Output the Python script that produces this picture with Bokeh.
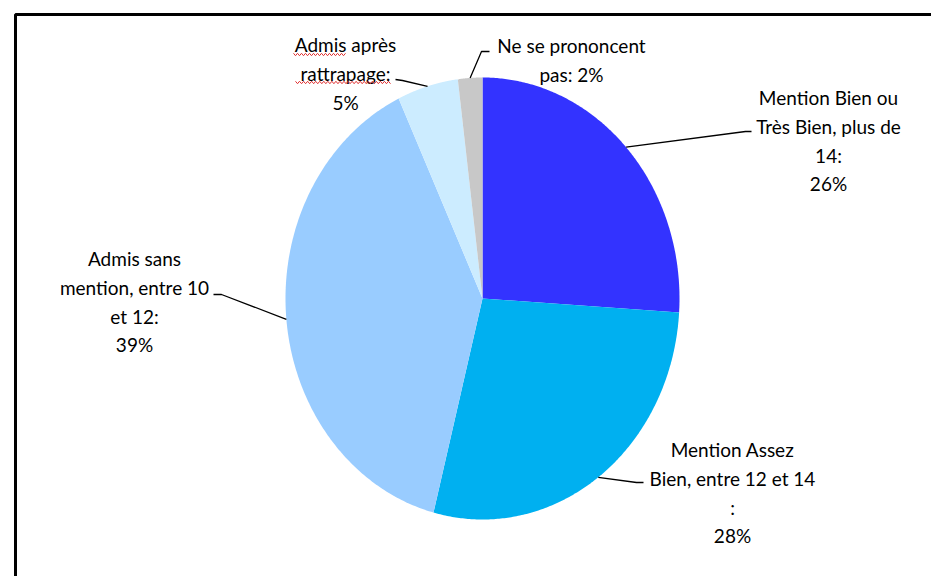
import numpy as np
from bokeh.plotting import figure
from bokeh.models import Range1d
from bokeh.core.properties import value
from bokeh.embed import file_html
from bokeh.resources import INLINE

# ---------------- data ----------------
categories = [
    "Mention Bien ou Très Bien, plus de 14",
    "Mention Assez Bien, entre 12 et 14",
    "Admis sans mention, entre 10 et 12",
    "Admis après rattrapage",
    "Ne se prononcent pas",
]
percents = [26, 28, 39, 5, 2]
colors = ["#3333FF", "#00B0F0", "#99CCFF", "#CCECFF", "#C8C8C8"]
label_templates = [
    ["Mention Bien ou", "Très Bien, plus de", "14:", "{}%"],
    ["Mention Assez", "Bien, entre 12 et 14", ":", "{}%"],
    ["Admis sans", "mention, entre 10", "et 12:", "{}%"],
    ["Admis après", "rattrapage:", "{}%"],
    ["Ne se prononcent", "pas: {}%"],
]

# ---------------- layout (page pixel coordinates) ----------------
W, H = 931, 576
CX, CY = 482.0, 298.0      # pie centre
RX, RY = 197.0, 221.0      # pie radii (elliptical pie)
label_pos = [(828, 97), (732, 449), (134, 258), (345, 44), (571, 45)]
line_step = 28.8
leader_elbow = [(745, 131), (636, 482), (221, 294), (402, 80), (481, 51)]
leader_end = [(751, 131), (643, 482), (213, 294), (395, 79), (489, 51)]

FONT = "Lato"
FSIZE = "19px"

p = figure(width=W, height=H, output_backend="svg", toolbar_location=None,
           x_range=Range1d(0, W), y_range=Range1d(H, 0),
           x_axis_location=None, y_axis_location=None, min_border=0)
p.grid.visible = False
p.outline_line_color = None
p.background_fill_color = "white"
p.border_fill_color = "white"

# chart frame
p.quad(left=[15], right=[980], top=[14], bottom=[620],
       fill_color=None, line_color="black", line_width=3)

# pie slices (angle measured clockwise from 12 o'clock)
total = float(sum(percents))
cum = np.concatenate([[0.0], np.cumsum(percents)]) / total * 2 * np.pi
xs, ys = [], []
for i in range(len(percents)):
    a = np.linspace(cum[i], cum[i + 1], 200)
    xs.append([CX] + list(CX + RX * np.sin(a)))
    ys.append([CY] + list(CY - RY * np.cos(a)))
p.patches(xs, ys, fill_color=colors, line_color=None)

# leader lines
lx, ly = [], []
for i in range(len(percents)):
    m = (cum[i] + cum[i + 1]) / 2
    sx, sy = CX + RX * np.sin(m), CY - RY * np.cos(m)
    lx.append([sx, leader_elbow[i][0], leader_end[i][0]])
    ly.append([sy, leader_elbow[i][1], leader_end[i][1]])
p.multi_line(lx, ly, line_color="black", line_width=1.3)

# labels
tx, ty, tt = [], [], []
for i, tmpl in enumerate(label_templates):
    x0, y0 = label_pos[i]
    for k, line in enumerate(tmpl):
        tx.append(x0)
        ty.append(y0 + k * line_step)
        tt.append(line.format(percents[i]))
p.text(tx, ty, text=tt, text_align="center", text_baseline="middle",
       text_font=value(FONT), text_font_size=FSIZE, text_color="black")

# spell-check wavy underlines
def wave(x0, x1, y):
    n = int((x1 - x0) / 2) + 1
    wx = np.linspace(x0, x1, n)
    wy = y + np.where(np.arange(n) % 2 == 0, -1.2, 1.2)
    return list(wx), list(wy)

for (a, b, y) in [(293, 345, 54), (295, 390, 82)]:
    wx, wy = wave(a, b, y)
    p.line(wx, wy, line_color="#E03030", line_width=1)

open("out.html", "w").write(file_html(p, INLINE))
